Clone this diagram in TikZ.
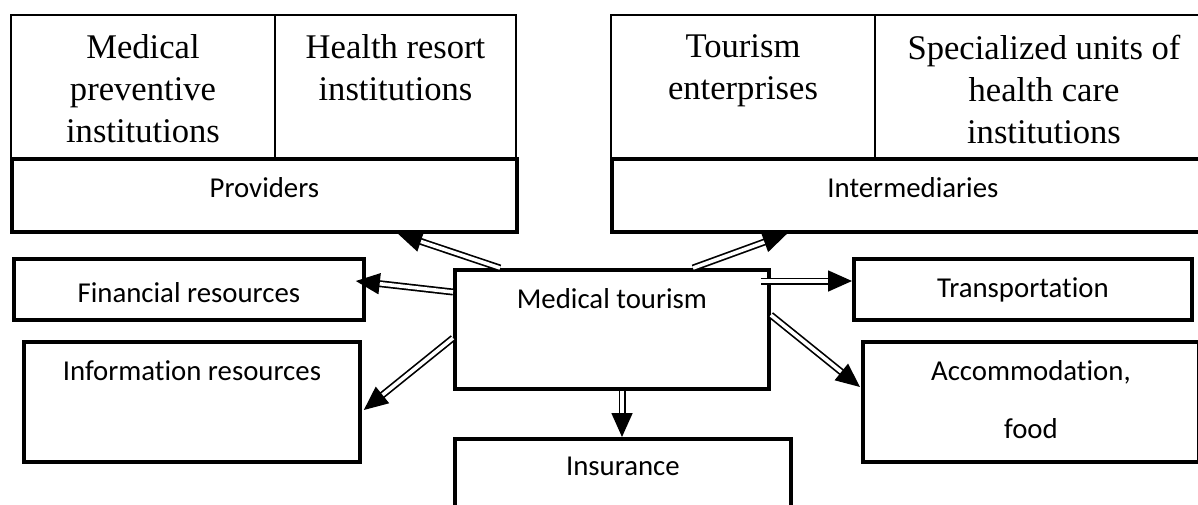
\documentclass[tikz,border=0pt]{standalone}
\usepackage{fontspec}
\setmainfont{Liberation Serif}
\setsansfont{Carlito}[RawFeature=-liga, RawFeature=-clig, RawFeature=-calt, RawFeature=-dlig, RawFeature=-rlig]
\usetikzlibrary{arrows.meta,calc}

\tikzset{
  cell/.style={draw, line width=1pt, anchor=north west, inner sep=0pt, minimum height=71.5pt},
  box/.style={draw, line width=1.9pt, anchor=north west, inner sep=0pt},
  serif/.style={font=\fontsize{17.3}{21}\selectfont, align=center, anchor=north, inner sep=0pt, yshift=-10.2pt},
  sans/.style={font=\sffamily\fontsize{14.4}{29}\selectfont, align=center, anchor=north, inner sep=0pt, yshift=-10pt},
  flow/.style={double, double distance=1.8pt, line width=0.85pt, -{Triangle[length=12pt,width=10.5pt]}}
}

\begin{document}
\begin{tikzpicture}[x=0.5pt,y=-0.5pt]
            \useasboundingbox (0,0) rectangle (1198,504);
            \clip (0,0) rectangle (1198,504);

            % providers
            \node[cell, minimum width=132pt, label={[serif]north:Medical\\preventive\\institutions}] (medprev) at (10,14) {};
            \node[cell, minimum width=120.5pt, label={[serif]north:Health resort\\institutions}] (resort) at (274,14) {};
            \node[box, minimum width=252.5pt, minimum height=36.5pt, label={[sans]north:Providers}] (prov) at (10,157) {};

            % intermediaries
            \node[cell, minimum width=132pt, label={[serif]north:Tourism\\enterprises}] (tourent) at (610,14) {};
            \node[cell, minimum width=169pt, label={[serif]north:Specialized units of\\health care\\institutions}] (specunit) at (874,14) {};
            \node[box, minimum width=301pt, minimum height=36.5pt, label={[sans]north:Intermediaries}] (inter) at (610,157) {};

            % resources
            \node[box, minimum width=175pt, minimum height=30.5pt, label={[sans, yshift=-2.5pt]north:Financial resources}] (fin) at (12,257) {};
            \node[box, minimum width=168pt, minimum height=60pt, label={[sans]north:Information resources}] (info) at (22,340) {};

            % centre
            \node[box, minimum width=157pt, minimum height=59.5pt, label={[sans]north:Medical tourism}] (medtour) at (453,268) {};

            % services
            \node[box, minimum width=169pt, minimum height=30.5pt, label={[sans]north:Transportation}] (trans) at (852,257) {};
            \node[box, minimum width=168pt, minimum height=60pt, label={[sans]north:Accommodation,\\food}] (accom) at (861,340) {};
            \node[box, minimum width=168pt, minimum height=50pt, label={[sans]north:Insurance}] (insur) at (453,437) {};

            \draw[flow] ($(medtour.north west)+(47,0)$) -- ($(prov.south west)+(388,0)$);
            \draw[flow] ($(medtour.north west)+(240,0)$) -- ($(inter.south west)+(177,0)$);
            \draw[flow] ($(medtour.north west)+(0,24)$) -- ($(fin.north east)+(-10,24)$);
            \draw[flow] ($(medtour.north west)+(0,70)$) -- ($(info.north east)+(2,70)$);
            \draw[flow] ($(medtour.north east)+(-10,13)$) -- ($(trans.north west)+(0,24)$);
            \draw[flow] ($(medtour.north east)+(0,47)$) -- ($(accom.north west)+(-1,47)$);
            \draw[flow] ($(medtour.south west)+(169,0)$) -- ($(insur.north west)+(169,0)$);

        \end{tikzpicture}
\end{document}
